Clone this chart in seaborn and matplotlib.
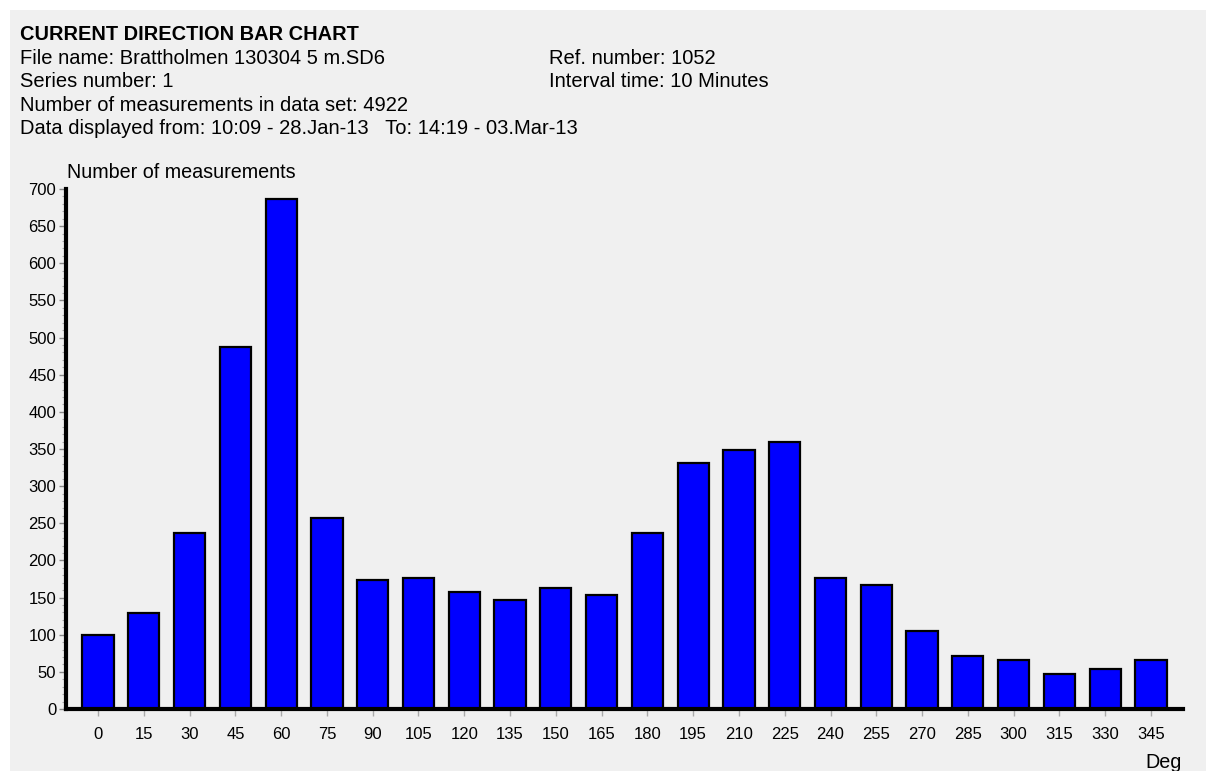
import matplotlib
matplotlib.use("Agg")
import matplotlib.pyplot as plt
from matplotlib.patches import Rectangle
from matplotlib.ticker import MultipleLocator
import seaborn as sns

# data #
directions = ["0", "15", "30", "45", "60", "75", "90", "105", "120", "135", "150", "165",
              "180", "195", "210", "225", "240", "255", "270", "285", "300", "315", "330", "345"]
counts = [99, 129, 237, 487, 687, 257, 174, 177, 157, 147, 163, 154,
          237, 331, 348, 360, 177, 167, 105, 71, 66, 47, 54, 66]

header_left = ["File name: Brattholmen 130304 5 m.SD6",
               "Series number: 1",
               "Number of measurements in data set: 4922",
               "Data displayed from: 10:09 - 28.Jan-13   To: 14:19 - 03.Mar-13"]
header_right = ["Ref. number: 1052", "Interval time: 10 Minutes"]

sns.set_style("white")
plt.rcParams['font.family'] = ['Liberation Sans', 'DejaVu Sans']
plt.rcParams['text.color'] = 'black'
plt.rcParams['xtick.labelcolor'] = 'black'
plt.rcParams['ytick.labelcolor'] = 'black'

W, H = 1206, 771
fig = plt.figure(figsize=(W / 100, H / 100), dpi=100, facecolor="#f0f0f0")
# white strips along the top and left edge #
fig.patches.append(Rectangle((0, 1 - 10 / H), 1, 10 / H + 0.01, transform=fig.transFigure,
                             facecolor="white", edgecolor="none", zorder=-10))
fig.patches.append(Rectangle((0, 0), 10 / W, 1, transform=fig.transFigure,
                             facecolor="white", edgecolor="none", zorder=-10))

ax = fig.add_axes([66 / W, 1 - 709 / H, (1183 - 66) / W, (709 - 189) / H])
ax.set_facecolor("none")

sns.barplot(x=directions, y=counts, order=directions, color="#0000ff", saturation=1,
            edgecolor="black", linewidth=1.6, width=0.68, ax=ax)

ax.set_xlim(-0.70, len(directions) - 0.30)
ax.set_ylim(0, 700)
ax.yaxis.set_major_locator(MultipleLocator(50))
ax.yaxis.set_minor_locator(MultipleLocator(10))

for side in ["top", "right"]:
    ax.spines[side].set_visible(False)
for side in ["left", "bottom"]:
    ax.spines[side].set_linewidth(3)
    ax.spines[side].set_color("black")

ax.tick_params(axis="y", which="major", length=5, width=1, color="#888888",
               labelsize=12, pad=2, left=True)
ax.tick_params(axis="y", which="minor", length=3, width=0.8, color="#aaaaaa", left=True)
ax.tick_params(axis="x", length=5, width=1, color="#aaaaaa", labelsize=12, pad=8, bottom=True)
ax.set_xlabel("")
ax.set_ylabel("")

# header texts #
fig.text(20 / W, 1 - 35 / H, "CURRENT DIRECTION BAR CHART", fontsize=14.4,
         fontweight="bold", va="center", ha="left")
for i, line in enumerate(header_left):
    fig.text(20 / W, 1 - (58.5 + 23.3 * i) / H, line, fontsize=14.5, va="center", ha="left")
for i, line in enumerate(header_right):
    fig.text(549 / W, 1 - (58.5 + 23.3 * i) / H, line, fontsize=14.5, va="center", ha="left")

fig.text(67 / W, 1 - 173 / H, "Number of measurements", fontsize=14.2, va="center", ha="left")
fig.text(1182 / W, 1 - 762 / H, "Deg", fontsize=14.2, va="center", ha="right")

plt.savefig("out.png", dpi=100, facecolor=fig.get_facecolor())
